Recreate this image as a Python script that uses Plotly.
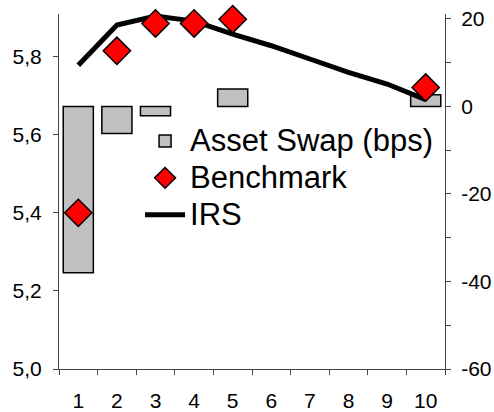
import plotly.graph_objects as go

categories = ["1", "2", "3", "4", "5", "6", "7", "8", "9", "10"]
asset_swap = [-38, -6.2, -2.1, None, 4.0, None, None, None, None, 2.7]
benchmark = [5.40, 5.815, 5.885, 5.885, 5.896, None, None, None, None, 5.721]
irs = [5.778, 5.881, 5.904, 5.891, 5.858, 5.828, 5.794, 5.760, 5.730, 5.690]

left_ticks = [5.0, 5.2, 5.4, 5.6, 5.8]
left_labels = ["5,0", "5,2", "5,4", "5,6", "5,8"]
right_ticks = [-60, -40, -20, 0, 20]
right_labels = ["-60", "-40", "-20", "0", "20"]

FONT = "Liberation Sans, Arial, sans-serif"


def big(s):
    return "<span style='font-size:31px'>" + s + "</span>"


fig = go.Figure()
fig.add_trace(go.Bar(
    x=categories, y=asset_swap, name=big("Asset Swap (bps)"), yaxis="y",
    marker=dict(color="#C0C0C0", line=dict(color="black", width=1.5)),
    width=0.78, legendrank=1,
))
fig.add_trace(go.Scatter(
    x=categories, y=irs, name=big("IRS"), yaxis="y2", mode="lines",
    line=dict(color="black", width=5), connectgaps=True, legendrank=3,
))
fig.add_trace(go.Scatter(
    x=categories, y=benchmark, name=big("Benchmark"), yaxis="y2", mode="markers",
    marker=dict(symbol="diamond", size=21, color="#FF0000",
                line=dict(color="black", width=1.5)),
    cliponaxis=False, legendrank=2,
))

fig.update_layout(
    width=494, height=412,
    margin=dict(l=59, r=49, t=14, b=43, autoexpand=False),
    paper_bgcolor="white", plot_bgcolor="white",
    font=dict(family=FONT, size=21, color="black"),
    showlegend=True,
    legend=dict(
        x=0.21, y=0.708, xanchor="left", yanchor="top",
        font=dict(size=26, family=FONT, color="black"),
        bgcolor="rgba(0,0,0,0)", traceorder="normal",
        itemwidth=40,
    ),
    xaxis=dict(
        type="category", categoryorder="array", categoryarray=categories,
        range=[-0.5, 9.5], tickson="boundaries", ticks="outside", ticklen=5,
        tickcolor="#444", showline=True, linecolor="#444", linewidth=1,
        showgrid=False, ticklabelstandoff=13, zeroline=False, automargin=False,
    ),
    yaxis=dict(
        side="right", range=[-60, 21.14], tickvals=right_ticks, ticktext=right_labels,
        ticks="outside", ticklen=5, tickcolor="#444",
        minor=dict(dtick=10, tick0=0, ticks="outside", ticklen=5, tickcolor="#444"),
        showline=True, linecolor="#444", linewidth=1, showgrid=False,
        zeroline=False, ticklabelstandoff=6, automargin=False,
    ),
    yaxis2=dict(
        side="left", overlaying="y", range=[5.0, 5.9093], tickvals=left_ticks,
        ticktext=left_labels, ticks="outside", ticklen=5, tickcolor="#444",
        showline=True, linecolor="#444", linewidth=1, showgrid=False,
        zeroline=False, ticklabelstandoff=7, automargin=False,
    ),
    barmode="overlay",
)

fig.write_html(
    "out.html",
    config={"displayModeBar": False},
    post_script="document.body.style.margin='0';document.body.style.overflow='hidden';",
)
